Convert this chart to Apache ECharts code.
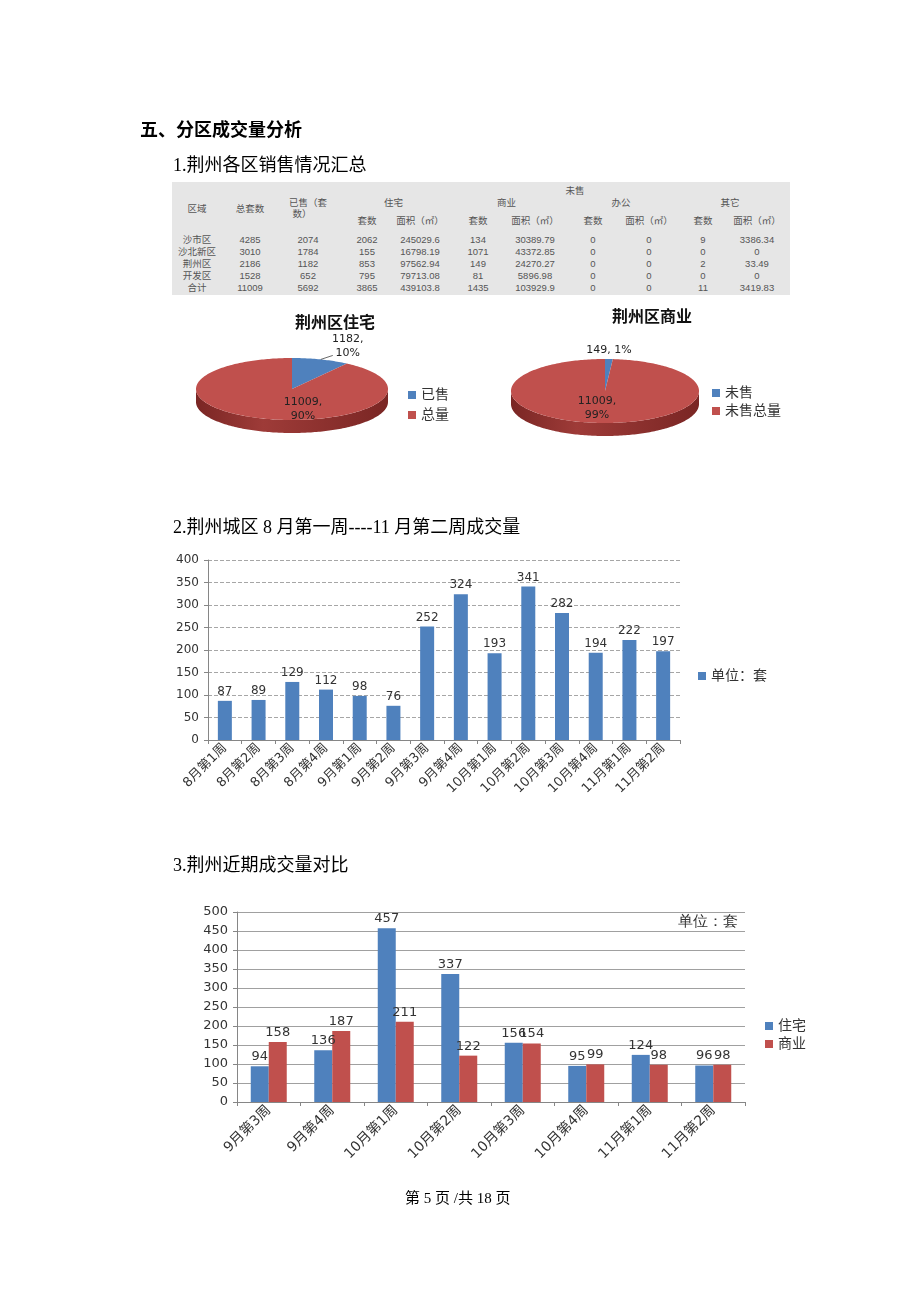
<!DOCTYPE html>
<html><head><meta charset="utf-8">
<script src="https://cdn.jsdelivr.net/npm/echarts@6/dist/echarts.min.js"></script>
<style>
html,body{margin:0;padding:0;background:#fff;}
#page{position:relative;width:920px;height:1302px;overflow:hidden;background:#fff;}
#chart{position:absolute;left:0;top:0;width:920px;height:1302px;}
.t{position:absolute;white-space:nowrap;font-family:"Liberation Serif","Noto Sans CJK SC",serif;color:#000;line-height:1;}
#tbl{position:absolute;left:172px;top:182px;width:618px;height:113px;background:#e6e6e6;}
.c{position:absolute;transform:translate(-50%,-50%);font-family:"Liberation Sans","Noto Sans CJK SC",sans-serif;font-size:9.5px;color:#555;white-space:nowrap;line-height:1;}
</style></head>
<body>
<div id="page">
  <div id="chart"></div>
  <div class="t" style="left:140px;top:121px;font-size:18px;font-weight:bold;">五、分区成交量分析</div>
  <div class="t" style="left:173px;top:156px;font-size:18px;">1.荆州各区销售情况汇总</div>
  <div id="tbl"></div>
  <div class="t" style="left:173px;top:518px;font-size:18px;">2.荆州城区 8 月第一周----11 月第二周成交量</div>
  <div class="t" style="left:173px;top:856px;font-size:18px;">3.荆州近期成交量对比</div>
  <div class="t" style="left:405px;top:1191px;font-size:15px;">第 5 页 /共 18 页</div>
</div>
<script>
// ---------- table data ----------
const districts = ['沙市区', '沙北新区', '荆州区', '开发区', '合计'];
const totalUnits = [4285, 3010, 2186, 1528, 11009];
const soldUnits = [2074, 1784, 1182, 652, 5692];
const resUnits = [2062, 155, 853, 795, 3865];
const resArea = ['245029.6', '16798.19', '97562.94', '79713.08', '439103.8'];
const comUnits = [134, 1071, 149, 81, 1435];
const comArea = ['30389.79', '43372.85', '24270.27', '5896.98', '103929.9'];
const offUnits = [0, 0, 0, 0, 0];
const offArea = [0, 0, 0, 0, 0];
const othUnits = [9, 0, 2, 0, 11];
const othArea = ['3386.34', '0', '33.49', '0', '3419.83'];

// ---------- pie data ----------
const pieResNames = ['已售', '总量'];
const pieResValues = [1182, 11009];
const pieComNames = ['未售', '未售总量'];
const pieComValues = [149, 11009];

// ---------- bar chart 1 ----------
const weeks1 = ['8月第1周', '8月第2周', '8月第3周', '8月第4周', '9月第1周', '9月第2周', '9月第3周', '9月第4周', '10月第1周', '10月第2周', '10月第3周', '10月第4周', '11月第1周', '11月第2周'];
const sales1 = [87, 89, 129, 112, 98, 76, 252, 324, 193, 341, 282, 194, 222, 197];

// ---------- bar chart 2 ----------
const weeks2 = ['9月第3周', '9月第4周', '10月第1周', '10月第2周', '10月第3周', '10月第4周', '11月第1周', '11月第2周'];
const residential = [94, 136, 457, 337, 156, 95, 124, 96];
const commercial = [158, 187, 211, 122, 154, 99, 98, 98];

// ---------- build table ----------
(function () {
  const tbl = document.getElementById('tbl');
  function cell(x, y, txt) {
    const d = document.createElement('div');
    d.className = 'c';
    d.style.left = x + 'px';
    d.style.top = y + 'px';
    d.textContent = txt;
    tbl.appendChild(d);
  }
  const cols = [25, 78, 136, 195, 248, 306, 363, 421, 477, 531, 585];
  const rows = [58, 70, 82, 94, 106];
  cell(403, 9, '未售');
  cell(cols[0], 27, '区域');
  cell(cols[1], 27, '总套数');
  cell(cols[2], 21, '已售（套');
  cell(cols[2] - 6, 32, '数）');
  cell((cols[3] + cols[4]) / 2, 21, '住宅');
  cell((cols[5] + cols[6]) / 2, 21, '商业');
  cell((cols[7] + cols[8]) / 2, 21, '办公');
  cell((cols[9] + cols[10]) / 2, 21, '其它');
  [3, 5, 7, 9].forEach(k => { cell(cols[k], 39, '套数'); cell(cols[k + 1], 39, '面积（㎡）'); });
  const colsData = [districts, totalUnits, soldUnits, resUnits, resArea, comUnits, comArea, offUnits, offArea, othUnits, othArea];
  districts.forEach((_, r) => {
    colsData.forEach((arr, c) => cell(cols[c], rows[r], String(arr[r])));
  });
})();

// ---------- 3D pie helpers ----------
function arcPts(cx, cy, rx, ry, a0, a1, dy) {
  const pts = [];
  const n = Math.max(2, Math.ceil((a1 - a0) / 0.02));
  for (let k = 0; k <= n; k++) {
    const t = a0 + (a1 - a0) * k / n;
    pts.push([cx + rx * Math.sin(t), cy - ry * Math.cos(t) + (dy || 0)]);
  }
  return pts;
}
function pie3d(names, values, colors, sideColors, g) {
  const total = values.reduce((a, b) => a + b, 0);
  let acc = 0;
  return names.map((nm, i) => {
    const a0 = acc / total * 2 * Math.PI;
    acc += values[i];
    const a1 = acc / total * 2 * Math.PI;
    const pct = Math.round(values[i] / total * 100);
    const lab = g.labels[i];
    return {
      type: 'custom', name: nm, coordinateSystem: 'none', silent: true,
      itemStyle: { color: colors[i] },
      data: [values[i]],
      renderItem: function (params, api) {
        const v = api.value(0);
        const ch = [];
        const lo = Math.max(a0, Math.PI / 2), hi = Math.min(a1, 3 * Math.PI / 2);
        if (hi > lo) {
          const top = arcPts(g.cx, g.cy, g.rx, g.ry, lo, hi, 0);
          const bot = arcPts(g.cx, g.cy, g.rx, g.ry, lo, hi, g.depth).reverse();
          ch.push({
            type: 'polygon', shape: { points: top.concat(bot) },
            style: { fill: new echarts.graphic.LinearGradient(0, 0, 1, 0, [
              { offset: 0, color: sideColors[i][0] },
              { offset: 0.35, color: sideColors[i][1] },
              { offset: 1, color: sideColors[i][0] }]) }
          });
        }
        const sec = [[g.cx, g.cy]].concat(arcPts(g.cx, g.cy, g.rx, g.ry, a0, a1, 0));
        ch.push({ type: 'polygon', shape: { points: sec }, style: { fill: colors[i] } });
        const txt = lab.twoLine ? (v + ',\n' + pct + '%') : (v + ', ' + pct + '%');
        if (lab.mode === 'outside') {
          const mid = (a0 + a1) / 2;
          const bx = g.cx + g.rx * Math.sin(mid), by = g.cy - g.ry * Math.cos(mid);
          if (lab.line) {
            ch.push({ type: 'polyline', shape: { points: [[bx, by], [bx + lab.line[0], by + lab.line[1]]] },
              style: { stroke: '#444', lineWidth: 0.8, fill: null } });
          }
          ch.push({ type: 'text', x: bx + lab.dx, y: by + lab.dy,
            style: { text: txt, fill: '#222', font: '11px "DejaVu Sans", sans-serif', align: 'center', verticalAlign: 'middle', lineHeight: 14 } });
        } else {
          ch.push({ type: 'text', x: g.cx + lab.dx, y: g.cy + lab.dy,
            style: { text: txt, fill: '#222', font: '11px "DejaVu Sans", sans-serif', align: 'center', verticalAlign: 'middle', lineHeight: 14 } });
        }
        return { type: 'group', children: ch };
      }
    };
  });
}

const BLUE = '#4F81BD', RED = '#C0504D';
const sideCols = [['#2f5582', '#4a74a8'], ['#7a2624', '#9e3b38']];

const pieLeft = pie3d(pieResNames, pieResValues, [BLUE, RED], sideCols, {
  cx: 292, cy: 389, rx: 96, ry: 31, depth: 13,
  labels: [{ mode: 'outside', twoLine: true, dx: 27, dy: -13, line: [12, -4] },
           { mode: 'inside', twoLine: true, dx: 11, dy: 20 }]
});
const pieRight = pie3d(pieComNames, pieComValues, [BLUE, RED], sideCols, {
  cx: 605, cy: 391, rx: 94, ry: 32, depth: 13,
  labels: [{ mode: 'outside', twoLine: false, dx: 0, dy: -9 },
           { mode: 'inside', twoLine: true, dx: -8, dy: 17 }]
});

const FONT = '"DejaVu Sans", "Noto Sans CJK SC", sans-serif';
const axisCommon = {
  axisLine: { show: true, lineStyle: { color: '#868686' } },
  axisTick: { show: true, length: 4, lineStyle: { color: '#868686' } }
};

const chart = echarts.init(document.getElementById('chart'), null, { renderer: 'canvas' });
chart.setOption({
  animation: false,
  title: [
    { text: '荆州区住宅', left: 330, top: 309, textAlign: 'center',
      textStyle: { fontSize: 16, fontWeight: 'bold', color: '#111', fontFamily: '"Noto Sans CJK SC", sans-serif' } },
    { text: '荆州区商业', left: 647, top: 303, textAlign: 'center',
      textStyle: { fontSize: 16, fontWeight: 'bold', color: '#111', fontFamily: '"Noto Sans CJK SC", sans-serif' } }
  ],
  legend: [
    { data: pieResNames, orient: 'vertical', left: 403, top: 383, itemWidth: 8, itemHeight: 8, itemGap: 6, icon: 'rect',
      textStyle: { fontSize: 14, color: '#333', fontFamily: FONT } },
    { data: pieComNames, orient: 'vertical', left: 707, top: 381, itemWidth: 8, itemHeight: 8, itemGap: 4, icon: 'rect',
      textStyle: { fontSize: 14, color: '#333', fontFamily: FONT } },
    { data: ['单位：套'], left: 693, top: 664, itemWidth: 8, itemHeight: 8, icon: 'rect',
      textStyle: { fontSize: 14, color: '#333', fontFamily: FONT } },
    { data: ['住宅', '商业'], orient: 'vertical', left: 760, top: 1014, itemWidth: 8, itemHeight: 8, itemGap: 4, icon: 'rect',
      textStyle: { fontSize: 14, color: '#333', fontFamily: FONT } }
  ],
  grid: [
    { left: 208, top: 560, width: 472, height: 180 },
    { left: 237, top: 912, width: 508, height: 190 }
  ],
  xAxis: [
    Object.assign({ type: 'category', gridIndex: 0, data: weeks1,
      axisLabel: { rotate: 45, interval: 0, fontSize: 13, color: '#333', margin: 6, fontFamily: FONT } }, axisCommon),
    Object.assign({ type: 'category', gridIndex: 1, data: weeks2,
      axisLabel: { rotate: 45, interval: 0, fontSize: 14, color: '#333', margin: 6, fontFamily: FONT } }, axisCommon)
  ],
  yAxis: [
    Object.assign({ type: 'value', gridIndex: 0, min: 0, max: 400, interval: 50,
      axisLabel: { fontSize: 12, color: '#333', margin: 9, fontFamily: FONT },
      splitLine: { lineStyle: { color: '#a6a6a6', type: 'dashed' } } }, axisCommon),
    Object.assign({ type: 'value', gridIndex: 1, min: 0, max: 500, interval: 50,
      axisLabel: { fontSize: 13, color: '#333', margin: 9, fontFamily: FONT },
      splitLine: { lineStyle: { color: '#a0a0a0' } } }, axisCommon)
  ],
  graphic: [
    { type: 'text', left: 678, top: 914, style: { text: '单位：套', fontSize: 15, fill: '#333', font: '15px "Noto Sans CJK SC", sans-serif' } }
  ],
  series: [
    ...pieLeft, ...pieRight,
    { type: 'bar', name: '单位：套', xAxisIndex: 0, yAxisIndex: 0, data: sales1, barWidth: 14,
      itemStyle: { color: BLUE },
      label: { show: true, position: 'top', distance: 3, fontSize: 12, color: '#333', fontFamily: FONT } },
    { type: 'bar', name: '住宅', xAxisIndex: 1, yAxisIndex: 1, data: residential, barWidth: 18, barGap: '0%',
      itemStyle: { color: BLUE },
      label: { show: true, position: 'top', distance: 3, fontSize: 13, color: '#333', fontFamily: FONT } },
    { type: 'bar', name: '商业', xAxisIndex: 1, yAxisIndex: 1, data: commercial, barWidth: 18, barGap: '0%',
      itemStyle: { color: RED },
      label: { show: true, position: 'top', distance: 3, fontSize: 13, color: '#333', fontFamily: FONT } }
  ]
});
</script>
</body></html>
